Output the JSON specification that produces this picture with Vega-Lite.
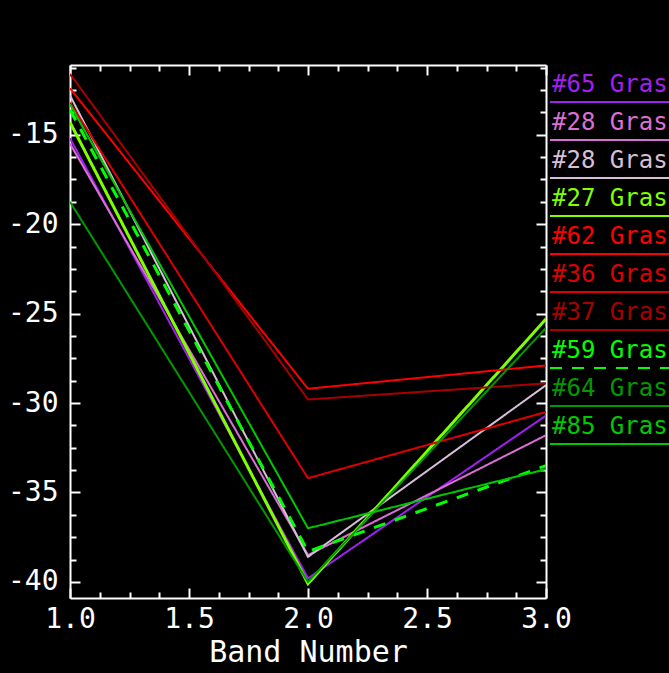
{
  "$schema": "https://vega.github.io/schema/vega-lite/v6.json",
  "width": 476,
  "height": 533,
  "autosize": {"type": "none"},
  "padding": {"left": 70, "top": 65, "right": 123, "bottom": 75},
  "background": "#000000",
  "config": {
    "view": {"stroke": null},
    "axis": {
      "domainColor": "#FFFFFF",
      "domainWidth": 2,
      "tickColor": "#FFFFFF",
      "tickWidth": 2,
      "labelColor": "#FFFFFF",
      "labelFont": "DejaVu Sans Mono",
      "labelFontSize": 28,
      "titleColor": "#FFFFFF",
      "titleFont": "DejaVu Sans Mono",
      "titleFontSize": 30,
      "titleFontWeight": "normal",
      "grid": false,
      "labelOverlap": false,
      "labelFlush": false,
      "labelBound": false
    }
  },
  "data": {
    "values": [
      {"series": "#65 Grass", "band": 1, "value": -15.2},
      {"series": "#65 Grass", "band": 2, "value": -39.8},
      {"series": "#65 Grass", "band": 3, "value": -30.7},
      {"series": "#28 Grass", "band": 1, "value": -15.5},
      {"series": "#28 Grass", "band": 2, "value": -38.5},
      {"series": "#28 Grass", "band": 3, "value": -31.8},
      {"series": "#28 Grass ", "band": 1, "value": -12.8},
      {"series": "#28 Grass ", "band": 2, "value": -38.6},
      {"series": "#28 Grass ", "band": 3, "value": -29.0},
      {"series": "#27 Grass", "band": 1, "value": -14.3},
      {"series": "#27 Grass", "band": 2, "value": -40.1},
      {"series": "#27 Grass", "band": 3, "value": -25.3},
      {"series": "#62 Grass", "band": 1, "value": -12.4},
      {"series": "#62 Grass", "band": 2, "value": -29.2},
      {"series": "#62 Grass", "band": 3, "value": -27.9},
      {"series": "#36 Grass", "band": 1, "value": -13.2},
      {"series": "#36 Grass", "band": 2, "value": -34.2},
      {"series": "#36 Grass", "band": 3, "value": -30.5},
      {"series": "#37 Grass", "band": 1, "value": -11.6},
      {"series": "#37 Grass", "band": 2, "value": -29.8},
      {"series": "#37 Grass", "band": 3, "value": -28.9},
      {"series": "#59 Grass", "band": 1, "value": -13.6},
      {"series": "#59 Grass", "band": 2, "value": -38.3},
      {"series": "#59 Grass", "band": 3, "value": -33.5},
      {"series": "#64 Grass", "band": 1, "value": -18.75},
      {"series": "#64 Grass", "band": 2, "value": -40.0},
      {"series": "#64 Grass", "band": 3, "value": -25.8},
      {"series": "#85 Grass", "band": 1, "value": -13.3},
      {"series": "#85 Grass", "band": 2, "value": -37.0},
      {"series": "#85 Grass", "band": 3, "value": -33.7}
    ]
  },
  "layer": [
    {
      "mark": {"type": "line", "clip": true},
      "encoding": {
        "x": {
          "field": "band", "type": "quantitative",
          "scale": {"domain": [1, 3], "nice": false, "zero": false},
          "axis": {
            "orient": "bottom",
            "values": [1, 1.125, 1.25, 1.375, 1.5, 1.625, 1.75, 1.875, 2, 2.125, 2.25, 2.375, 2.5, 2.625, 2.75, 2.875, 3],
            "tickSize": {"condition": {"test": "datum.value * 2 % 1 === 0", "value": -10}, "value": -6},
            "labelExpr": "datum.value * 2 % 1 === 0 ? format(datum.value, '.1f') : ''",
            "labelPadding": 17,
            "title": "Band Number",
            "titlePadding": 0
          }
        },
        "y": {
          "field": "value", "type": "quantitative",
          "scale": {"domain": [-40.9, -11.1], "nice": false, "zero": false},
          "axis": {
            "orient": "left",
            "values": [-40, -38.75, -37.5, -36.25, -35, -33.75, -32.5, -31.25, -30, -28.75, -27.5, -26.25, -25, -23.75, -22.5, -21.25, -20, -18.75, -17.5, -16.25, -15, -13.75, -12.5, -11.25],
            "tickSize": {"condition": {"test": "datum.value % 5 === 0", "value": -10}, "value": -6},
            "labelExpr": "datum.value % 5 === 0 ? '' + datum.value : ''",
            "labelPadding": 22,
            "title": null
          }
        },
        "color": {
          "field": "series", "type": "nominal",
          "scale": {
            "domain": ["#65 Grass", "#28 Grass", "#28 Grass ", "#27 Grass", "#62 Grass", "#36 Grass", "#37 Grass", "#59 Grass", "#64 Grass", "#85 Grass"],
            "range": ["#A020F0", "#DA70D6", "#D8BFD8", "#7FFF00", "#FF0000", "#DD0000", "#A80000", "#00FF00", "#009A00", "#00C800"]
          },
          "legend": {
            "orient": "right",
            "offset": -12,
            "padding": 8,
            "title": null,
            "labelFont": "DejaVu Sans Mono",
            "labelFontSize": 24,
            "labelOffset": -15,
            "labelLimit": 0,
            "labelColor": {"expr": "scale('color', datum.value)"},
            "symbolType": "M -1 3.4 L 30 3.4",
            "symbolSize": 100,
            "symbolStrokeWidth": 2,
            "rowPadding": 5
          }
        },
        "strokeDash": {
          "field": "series", "type": "nominal",
          "scale": {
            "domain": ["#65 Grass", "#28 Grass", "#28 Grass ", "#27 Grass", "#62 Grass", "#36 Grass", "#37 Grass", "#59 Grass", "#64 Grass", "#85 Grass"],
            "range": [[1, 0], [1, 0], [1, 0], [1, 0], [1, 0], [1, 0], [1, 0], [12, 10], [1, 0], [1, 0]]
          }
        },
        "strokeWidth": {
          "condition": {"test": "datum.series === '#27 Grass' || datum.series === '#59 Grass'", "value": 3},
          "value": 2
        }
      }
    },
    {
      "mark": {"type": "line", "opacity": 0},
      "encoding": {
        "detail": {"field": "series", "type": "nominal"},
        "x": {
          "field": "band", "type": "quantitative",
          "axis": {
            "orient": "top",
            "values": [1, 1.125, 1.25, 1.375, 1.5, 1.625, 1.75, 1.875, 2, 2.125, 2.25, 2.375, 2.5, 2.625, 2.75, 2.875, 3],
            "tickSize": {"condition": {"test": "datum.value * 2 % 1 === 0", "value": -10}, "value": -6},
            "labels": false,
            "title": null
          }
        },
        "y": {
          "field": "value", "type": "quantitative",
          "axis": {
            "orient": "right",
            "values": [-40, -38.75, -37.5, -36.25, -35, -33.75, -32.5, -31.25, -30, -28.75, -27.5, -26.25, -25, -23.75, -22.5, -21.25, -20, -18.75, -17.5, -16.25, -15, -13.75, -12.5, -11.25],
            "tickSize": {"condition": {"test": "datum.value % 5 === 0", "value": -10}, "value": -6},
            "labels": false,
            "title": null
          }
        }
      }
    }
  ],
  "resolve": {"axis": {"x": "independent", "y": "independent"}}
}
